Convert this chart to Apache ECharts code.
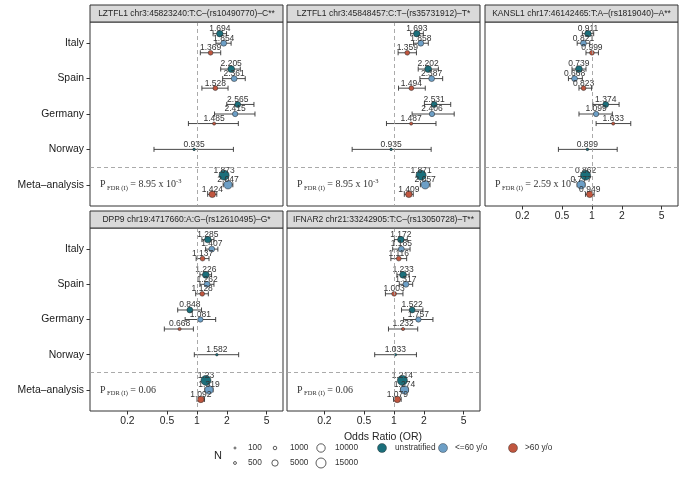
<!DOCTYPE html>
<html><head><meta charset="utf-8">
<script src="https://cdn.jsdelivr.net/npm/echarts@6/dist/echarts.min.js"></script>
<style>html,body{margin:0;padding:0;background:#fff}#c{width:683px;height:478px}</style>
</head><body><div id="c"></div>
<script>
// ---------------- data ----------------
const rowLabels = ['Italy', 'Spain', 'Germany', 'Norway', 'Meta\u2013analysis'];
const groupNames = ['unstratified', '<=60 y/o', '>60 y/o'];
const groupColors = ['#1b6f7b', '#6d9fc6', '#c0563f'];
const xTickValues = [0.2, 0.5, 1, 2, 5];
const legendN = [100, 500, 1000, 5000, 10000, 15000];

const panelTitles = [
  'LZTFL1 chr3:45823240:T:C\u2013(rs10490770)\u2013C**',
  'LZTFL1 chr3:45848457:C:T\u2013(rs35731912)\u2013T*',
  'KANSL1 chr17:46142465:T:A\u2013(rs1819040)\u2013A**',
  'DPP9 chr19:4717660:A:G\u2013(rs12610495)\u2013G*',
  'IFNAR2 chr21:33242905:T:C\u2013(rs13050728)\u2013T**'
];
const pFdrMain = ['8.95 x 10', '8.95 x 10', '2.59 x 10', '0.06', '0.06'];
const pFdrExp = ['-3', '-3', '-2', '', ''];
const pAnnotX = 0.106;

// sample size per row / group (unstratified, <=60, >60)
const sampleN = [[5400, 4200, 2400], [6000, 4200, 2400], [4200, 3300, 700], [300], [15000, 10000, 5400]];

// LZTFL1 rs10490770
const orA = [[1.694, 1.854, 1.369], [2.205, 2.361, 1.528], [2.565, 2.415, 1.485], [0.935], [1.873, 2.047, 1.424]];
const loA = [[1.45, 1.55, 1.08], [1.73, 1.81, 1.12], [1.99, 1.50, 0.82], [0.37], [1.72, 1.83, 1.28]];
const hiA = [[1.98, 2.20, 1.73], [2.72, 3.05, 2.05], [3.73, 3.82, 2.60], [2.32], [2.04, 2.29, 1.58]];
// LZTFL1 rs35731912
const orB = [[1.693, 1.858, 1.359], [2.202, 2.387, 1.494], [2.531, 2.406, 1.487], [0.935], [1.871, 2.057, 1.409]];
const loB = [[1.47, 1.57, 1.10], [1.75, 1.82, 1.11], [2.02, 1.52, 0.84], [0.38], [1.72, 1.84, 1.27]];
const hiB = [[1.97, 2.21, 1.68], [2.79, 3.08, 2.06], [3.71, 4.02, 2.64], [2.36], [2.04, 2.30, 1.56]];
// KANSL1 rs1819040
const orC = [[0.911, 0.821, 0.999], [0.739, 0.668, 0.823], [1.374, 1.099, 1.633], [0.899], [0.862, 0.777, 0.949]];
const loC = [[0.80, 0.71, 0.87], [0.63, 0.58, 0.74], [1.02, 0.74, 1.10], [0.46], [0.80, 0.71, 0.86]];
const hiC = [[1.04, 0.95, 1.16], [0.87, 0.80, 0.99], [1.87, 1.60, 2.45], [1.79], [0.93, 0.85, 1.05]];
// DPP9 rs12610495
const orD = [[1.285, 1.407, 1.137], [1.226, 1.262, 1.128], [0.848, 1.081, 0.668], [1.582], [1.23, 1.319, 1.092]];
const loD = [[1.12, 1.22, 0.98], [1.07, 1.07, 0.97], [0.64, 0.76, 0.47], [0.94], [1.14, 1.20, 1.00]];
const hiD = [[1.48, 1.62, 1.32], [1.40, 1.48, 1.30], [1.11, 1.54, 0.92], [2.62], [1.33, 1.45, 1.19]];
// IFNAR2 rs13050728
const orE = [[1.172, 1.185, 1.116], [1.233, 1.317, 1.003], [1.522, 1.757, 1.232], [1.033], [1.214, 1.274, 1.079]];
const loE = [[1.01, 0.97, 0.93], [1.07, 1.13, 0.82], [1.19, 1.25, 0.88], [0.64], [1.13, 1.17, 0.99]];
const hiE = [[1.36, 1.45, 1.34], [1.42, 1.54, 1.23], [1.95, 2.46, 1.73], [1.68], [1.31, 1.39, 1.18]];

const panelOR = [orA, orB, orC, orD, orE];
const panelLo = [loA, loB, loC, loD, loE];
const panelHi = [hiA, hiB, hiC, hiD, hiE];

// ---------------- layout ----------------
const FONT = 'Liberation Sans, Arial, sans-serif';
const SERIF = 'Liberation Serif, Times New Roman, serif';
const panelLeft = [90, 287, 485, 90, 287];
const panelTop = [22, 22, 22, 228, 228];
const panelH = [184, 184, 184, 183, 183];
const PW = 193, STRIP = 17;
const showX = [false, false, true, true, true];
const showY = [true, false, false, true, false];
const xMin = Math.log10(0.0843), xMax = Math.log10(7.3);
const dodge = 0.27;
const sizeFn = n => 1.3 + 0.071 * Math.sqrt(n);
const fmt = v => String(parseFloat(Math.pow(10, v).toPrecision(3)));

const grids = [], xAxes = [], yAxes = [], series = [], graphics = [];

for (let p = 0; p < 5; p++) {
  grids.push({left: panelLeft[p], top: panelTop[p], width: PW, height: panelH[p], show: true,
    borderColor: '#333', borderWidth: 1, backgroundColor: 'transparent', containLabel: false, outerBoundsMode: 'none'});
  const xt = xTickValues.map(v => Math.log10(v));
  xAxes.push({type: 'value', gridIndex: p, min: xMin, max: xMax, position: 'bottom',
    axisLine: {show: false, onZero: false}, splitLine: {show: false},
    axisTick: {show: showX[p], customValues: xt, length: 3.5, lineStyle: {color: '#333', width: 1}},
    axisLabel: {show: showX[p], customValues: xt, formatter: fmt, fontSize: 10.4, color: '#262626', margin: 5, fontFamily: FONT}});
  yAxes.push({type: 'value', gridIndex: p, min: -0.6, max: 4.6, inverse: true, position: 'left',
    axisLine: {show: false, onZero: false}, splitLine: {show: false},
    axisTick: {show: showY[p], customValues: [0, 1, 2, 3, 4], length: 3.5, lineStyle: {color: '#333', width: 1}},
    axisLabel: {show: showY[p], customValues: [0, 1, 2, 3, 4], formatter: v => rowLabels[Math.round(v)], fontSize: 10.4, color: '#1a1a1a', margin: 6, fontFamily: FONT}});

  const ors = panelOR[p], los = panelLo[p], his = panelHi[p];
  const errData = [];
  const pts = [[], [], []];
  ors.forEach((row, i) => {
    row.forEach((v, g) => {
      const y = i + (row.length === 1 ? 0 : (g - 1) * dodge);
      errData.push([Math.log10(los[i][g]), Math.log10(his[i][g]), y]);
      pts[g].push([Math.log10(v), y, sampleN[i][g], v]);
    });
  });

  series.push({
    type: 'custom', xAxisIndex: p, yAxisIndex: p, z: 1, silent: true,
    data: errData, encode: {x: [0, 1], y: 2},
    renderItem: (params, api) => {
      const a = api.coord([api.value(0), api.value(2)]);
      const b = api.coord([api.value(1), api.value(2)]);
      const h = 2.5, st = {stroke: '#333', lineWidth: 0.9};
      return {type: 'group', children: [
        {type: 'line', shape: {x1: a[0], y1: a[1], x2: b[0], y2: b[1]}, style: st},
        {type: 'line', shape: {x1: a[0], y1: a[1] - h, x2: a[0], y2: a[1] + h}, style: st},
        {type: 'line', shape: {x1: b[0], y1: b[1] - h, x2: b[0], y2: b[1] + h}, style: st}
      ]};
    },
    markLine: {silent: true, symbol: 'none', label: {show: false}, animation: false,
      lineStyle: {type: [4, 3], color: '#a0a0a0', width: 0.9},
      data: [{xAxis: 0}, {yAxis: 3.5}]}
  });

  for (let g = 0; g < 3; g++) {
    series.push({
      type: 'scatter', name: groupNames[g], xAxisIndex: p, yAxisIndex: p, z: 3,
      data: pts[g],
      symbolSize: d => sizeFn(d[2]),
      itemStyle: {color: groupColors[g], borderColor: '#222', borderWidth: 0.5, opacity: 1},
      label: {show: true, position: 'inside', offset: [0, -5], formatter: q => String(q.data[3]),
        fontSize: 8.5, color: '#333', fontFamily: FONT},
      emphasis: {disabled: true}
    });
  }

  series.push({
    type: 'custom', xAxisIndex: p, yAxisIndex: p, z: 4, silent: true,
    data: [[Math.log10(pAnnotX), 4]],
    renderItem: (params, api) => {
      const c = api.coord([api.value(0), api.value(1)]);
      return {type: 'text', x: c[0], y: c[1], style: {
        text: '{p|P}{s| FDR (I)}{n| = ' + pFdrMain[p] + '}{e|' + pFdrExp[p] + '}',
        align: 'left', verticalAlign: 'middle',
        rich: {
          p: {fontSize: 10, fontFamily: SERIF, fill: '#333', lineHeight: 14, verticalAlign: 'middle'},
          s: {fontSize: 6.5, fontFamily: SERIF, fill: '#333', lineHeight: 8, verticalAlign: 'bottom'},
          n: {fontSize: 10, fontFamily: SERIF, fill: '#333', lineHeight: 14, verticalAlign: 'middle'},
          e: {fontSize: 6.5, fontFamily: SERIF, fill: '#333', lineHeight: 8, verticalAlign: 'top'}
        }
      }};
    }
  });

  // facet strip
  graphics.push({type: 'rect', shape: {x: panelLeft[p], y: panelTop[p] - STRIP, width: PW, height: STRIP},
    style: {fill: '#d9d9d9', stroke: '#333', lineWidth: 1}, z: 10, silent: true});
  graphics.push({type: 'text', x: panelLeft[p] + PW / 2, y: panelTop[p] - STRIP / 2 + 0.5,
    style: {text: panelTitles[p], fontSize: 8.5, fill: '#262626', fontFamily: FONT, align: 'center', verticalAlign: 'middle'}, z: 11, silent: true});
}

// axis title
graphics.push({type: 'text', x: 383, y: 437, style: {text: 'Odds Ratio (OR)', fontSize: 10.5, fill: '#262626', fontFamily: FONT, align: 'center', verticalAlign: 'middle'}});

// size legend
graphics.push({type: 'text', x: 218, y: 456, style: {text: 'N', fontSize: 11, fill: '#262626', fontFamily: FONT, align: 'center', verticalAlign: 'middle'}});
const legCx = [235, 275, 321], legTx = [248, 290, 335], legY = [448, 463];
legendN.forEach((n, i) => {
  const col = Math.floor(i / 2), row = i % 2;
  graphics.push({type: 'circle', shape: {cx: legCx[col], cy: legY[row], r: sizeFn(n) / 2},
    style: {fill: 'none', stroke: '#333', lineWidth: 0.8}});
  graphics.push({type: 'text', x: legTx[col], y: legY[row], style: {text: String(n), fontSize: 8.3, fill: '#333', fontFamily: FONT, align: 'left', verticalAlign: 'middle'}});
});
// colour legend
const colCx = [382, 443, 513], colTx = [395, 455, 525];
groupNames.forEach((g, i) => {
  graphics.push({type: 'circle', shape: {cx: colCx[i], cy: 448, r: 4.5},
    style: {fill: groupColors[i], stroke: '#222', lineWidth: 0.4}});
  graphics.push({type: 'text', x: colTx[i], y: 448, style: {text: g, fontSize: 8.3, fill: '#333', fontFamily: FONT, align: 'left', verticalAlign: 'middle'}});
});

const chart = echarts.init(document.getElementById('c'), null, {renderer: 'canvas'});
chart.setOption({
  animation: false,
  backgroundColor: '#fff',
  textStyle: {fontFamily: FONT},
  grid: grids, xAxis: xAxes, yAxis: yAxes, series: series,
  graphic: {elements: graphics}
});
</script></body></html>
